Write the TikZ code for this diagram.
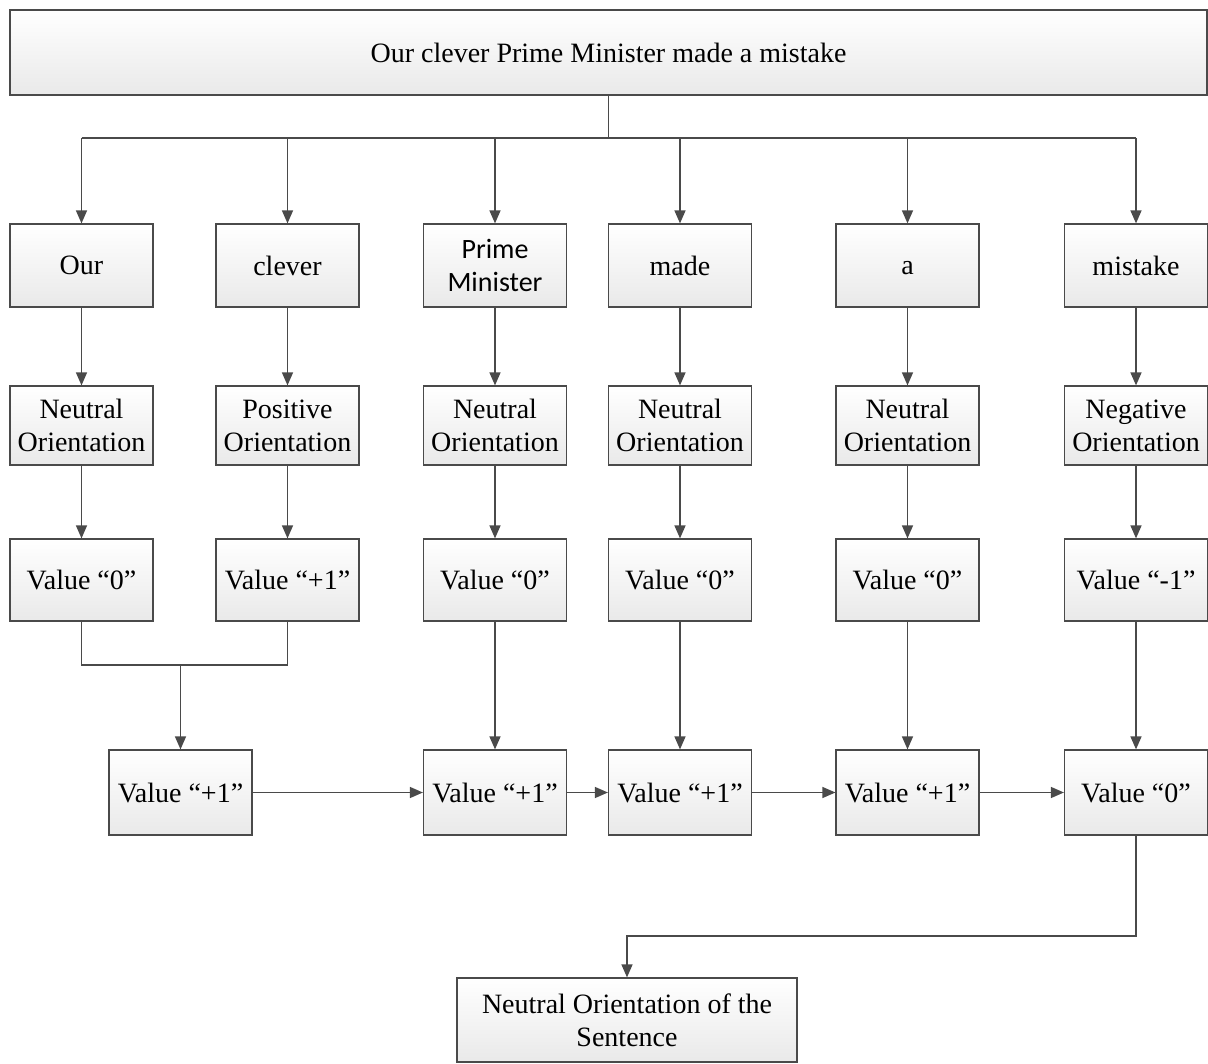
\documentclass[tikz,border=0pt]{standalone}
\usepackage{fontspec}
\setmainfont{Liberation Serif}
\newfontfamily\calibfont{Carlito}
\usetikzlibrary{arrows.meta}
\definecolor{linegray}{HTML}{4A4A4A}
\definecolor{boxgray}{HTML}{E9E9E9}

\begin{document}
\begin{tikzpicture}[x=1pt,y=-1pt,
  box/.style={draw=linegray, line width=1.2pt, top color=white, bottom color=boxgray,
    minimum width=143pt, inner sep=0pt, align=center,
    font=\fontsize{28}{33}\selectfont},
  conn/.style={draw=linegray, line width=1.4pt},
  arr/.style={conn, -{Triangle[length=13pt,width=11pt]}}]

\fill[white] (0,0) rectangle (1208,1064);
\useasboundingbox (0,0) rectangle (1208,1064);

% sentence
\node[box, minimum width=1197pt, minimum height=85pt] (top) at (608.5,52.5)
  {Our clever Prime Minister made a mistake};

% words
\node[box, minimum height=83pt] (w1) at (81.5,265.5) {Our};
\node[box, minimum height=83pt] (w2) at (287.5,265.5) {clever};
\node[box, minimum height=83pt, font=\calibfont\fontsize{28}{33}\selectfont] (w3) at (495,265.5) {Prime\\Minister};
\node[box, minimum height=83pt] (w4) at (680,265.5) {made};
\node[box, minimum height=83pt] (w5) at (907.5,265.5) {\vphantom{Our}a};
\node[box, minimum height=83pt] (w6) at (1136,265.5) {mistake};

% orientations
\node[box, minimum height=79pt] (o1) at (81.5,425.5) {Neutral\\Orientation};
\node[box, minimum height=79pt] (o2) at (287.5,425.5) {Positive\\Orientation};
\node[box, minimum height=79pt] (o3) at (495,425.5) {Neutral\\Orientation};
\node[box, minimum height=79pt] (o4) at (680,425.5) {Neutral\\Orientation};
\node[box, minimum height=79pt] (o5) at (907.5,425.5) {Neutral\\Orientation};
\node[box, minimum height=79pt] (o6) at (1136,425.5) {Negative\\Orientation};

% word values
\node[box, minimum height=82pt] (v1) at (81.5,580) {Value “0”};
\node[box, minimum height=82pt] (v2) at (287.5,580) {Value “+1”};
\node[box, minimum height=82pt] (v3) at (495,580) {Value “0”};
\node[box, minimum height=82pt] (v4) at (680,580) {Value “0”};
\node[box, minimum height=82pt] (v5) at (907.5,580) {Value “0”};
\node[box, minimum height=82pt] (v6) at (1136,580) {Value “-1”};

% running sums
\node[box, minimum height=85pt] (s1) at (180.5,792.5) {Value “+1”};
\node[box, minimum height=85pt] (s2) at (495,792.5) {Value “+1”};
\node[box, minimum height=85pt] (s3) at (680,792.5) {Value “+1”};
\node[box, minimum height=85pt] (s4) at (907.5,792.5) {Value “+1”};
\node[box, minimum height=85pt] (s5) at (1136,792.5) {Value “0”};

% result
\node[box, minimum width=340pt, minimum height=84pt] (res) at (627,1020)
  {Neutral Orientation of the\\Sentence};

% fan-out from the sentence
\coordinate (split) at (608.5,138);
\draw[conn] (top.south) -- (split);
\draw[conn] (split -| w1.north) -- (split -| w6.north);
\foreach \w in {w1,w2,w3,w4,w5,w6}
  \draw[arr] (split -| \w.north) -- (\w.north);

% vertical chains
\foreach \i in {1,...,6}
  \draw[arr] (w\i.south) -- (o\i.north);
\foreach \i in {1,...,6}
  \draw[arr] (o\i.south) -- (v\i.north);

% first two values merge
\coordinate (merge) at (180.5,665);
\draw[conn] (v1.south) -- (v1.south |- merge) -- (v2.south |- merge) -- (v2.south);
\draw[arr] (merge) -- (s1.north);
\draw[arr] (v3.south) -- (s2.north);
\draw[arr] (v4.south) -- (s3.north);
\draw[arr] (v5.south) -- (s4.north);
\draw[arr] (v6.south) -- (s5.north);

% accumulation
\draw[arr] (s1.east) -- (s2.west);
\draw[arr] (s2.east) -- (s3.west);
\draw[arr] (s3.east) -- (s4.west);
\draw[arr] (s4.east) -- (s5.west);

% final result
\coordinate (turn) at (626,936);
\draw[arr] (s5.south) |- (res.north |- turn) -- (res.north);
\end{tikzpicture}
\end{document}
